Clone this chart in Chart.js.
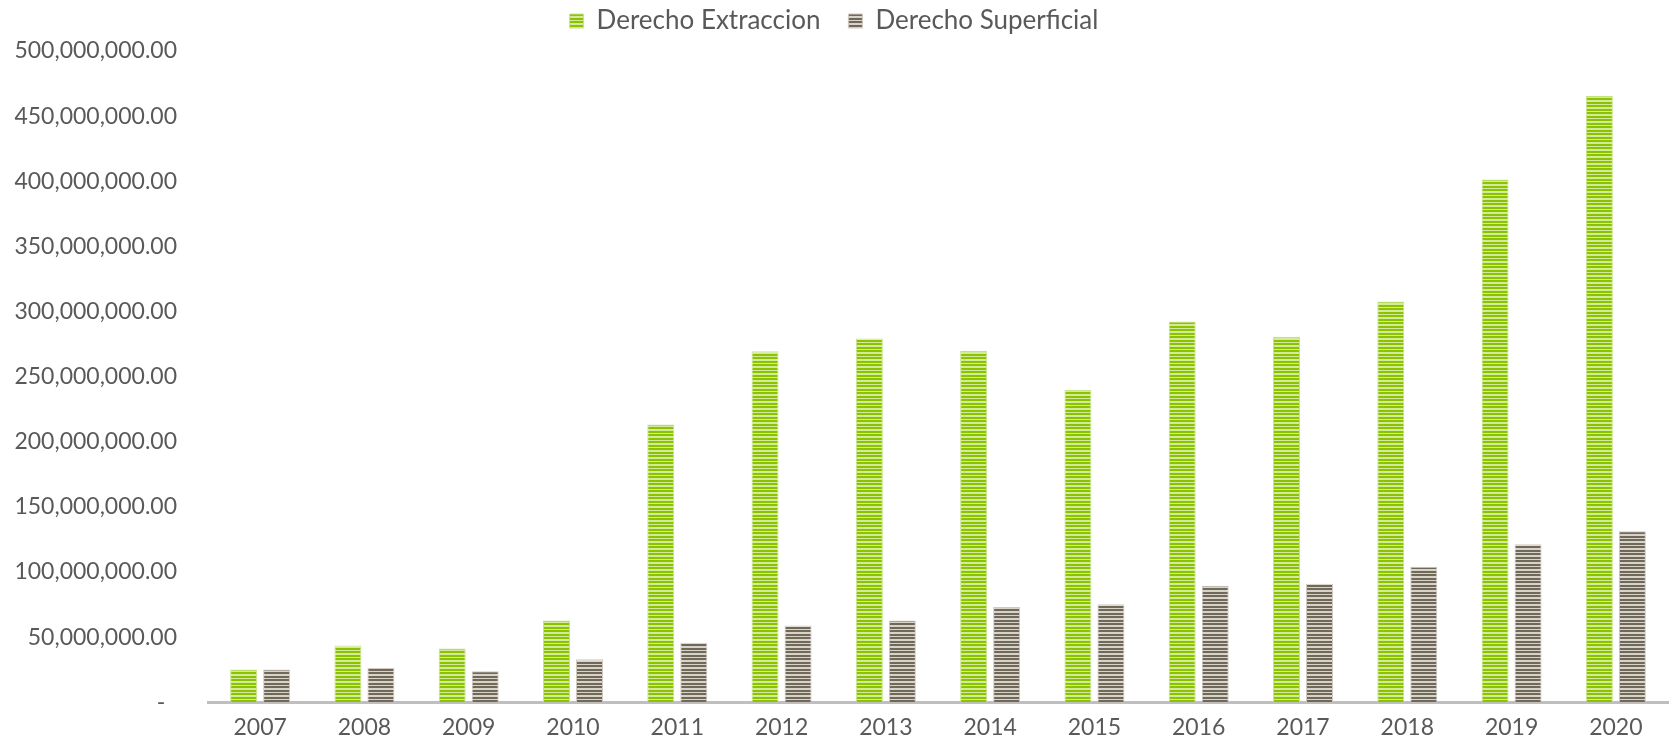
<!DOCTYPE html>
<html>
<head>
<meta charset="utf-8">
<script src="https://cdn.jsdelivr.net/npm/chart.js@4.4.1/dist/chart.umd.min.js"></script>
<style>
  html, body { margin: 0; padding: 0; background: #ffffff; }
  #wrap { width: 1675px; height: 747px; position: relative; }
</style>
</head>
<body>
<div id="wrap"><canvas id="chart"></canvas></div>
<script>
// datos
const years = ['2007', '2008', '2009', '2010', '2011', '2012', '2013', '2014', '2015', '2016', '2017', '2018', '2019', '2020'];
const derechoExtraccion = [25.2, 43.6, 41.3, 62.7, 213.3, 269.4, 279.3, 269.9, 239.8, 292.3, 280.6, 307.6, 401.4, 465.6].map(v => v * 1e6);
const derechoSuperficial = [25.2, 26.2, 23.7, 32.9, 45.6, 58.9, 62.7, 73.1, 75.2, 89.4, 91.0, 104.0, 121.3, 131.2].map(v => v * 1e6);
const yTicks = [0, 50, 100, 150, 200, 250, 300, 350, 400, 450, 500].map(v => v * 1e6);

// rayas horizontales como en el original (periodo ~3.5px)
function stripes(dark, light) {
  const c = document.createElement('canvas');
  c.width = 4; c.height = 7;
  const g = c.getContext('2d');
  g.fillStyle = light; g.fillRect(0, 0, 4, 7);
  g.fillStyle = dark;
  g.fillRect(0, 0, 4, 2);
  g.fillRect(0, 4, 4, 2);
  return g.createPattern(c, 'repeat');
}

const greenFill = stripes('#8cc300', '#d3ea9b');
const grayFill = stripes('#706859', '#d8d3c8');

const fmt = v => v === 0 ? '-  ' : v.toLocaleString('en-US', { minimumFractionDigits: 2, maximumFractionDigits: 2 });
const tickFont = { family: 'Lato', size: 23 };

const ctx = document.getElementById('chart').getContext('2d');
new Chart(ctx, {
  type: 'bar',
  data: {
    labels: years,
    datasets: [
      { label: 'Derecho Extraccion', data: derechoExtraccion, backgroundColor: greenFill, borderColor: '#c9e38a', borderWidth: 1 },
      { label: 'Derecho Superficial', data: derechoSuperficial, backgroundColor: grayFill, borderColor: '#cfc9bf', borderWidth: 1 }
    ]
  },
  options: {
    responsive: true,
    maintainAspectRatio: false,
    animation: false,
    devicePixelRatio: 1,
    layout: { padding: { top: 0, right: 7, bottom: 0, left: 0 } },
    datasets: { bar: { categoryPercentage: 0.633, barPercentage: 0.818 } },
    plugins: {
      legend: {
        position: 'top',
        labels: {
          boxWidth: 14, boxHeight: 14, padding: 8,
          color: '#595959',
          font: { family: 'Lato', size: 26 },
          // un poco mas de aire entre las dos entradas
          generateLabels: chart => {
            const items = Chart.defaults.plugins.legend.labels.generateLabels(chart);
            items[0].text += '   ';
            return items;
          }
        }
      },
      tooltip: { enabled: false }
    },
    scales: {
      x: {
        grid: { display: false, drawTicks: false },
        border: { display: true, color: '#bfbfbf', width: 3 },
        afterFit: s => { s.height = 43; },
        ticks: { color: '#595959', padding: 12, font: tickFont }
      },
      // espacio vacio entre leyenda y area del grafico
      gap: {
        type: 'linear', position: 'top', display: true,
        afterFit: s => { s.height = 7; },
        grid: { display: false, drawTicks: false },
        border: { display: false },
        ticks: { display: false }
      },
      y: {
        min: 0, max: 500e6,
        afterBuildTicks: s => { s.ticks = yTicks.map(v => ({ value: v })); },
        afterFit: s => { s.width = 208; },
        grid: { display: false, drawTicks: false },
        border: { display: false },
        ticks: { color: '#595959', padding: 31, callback: fmt, font: tickFont }
      }
    }
  }
});
</script>
</body>
</html>
